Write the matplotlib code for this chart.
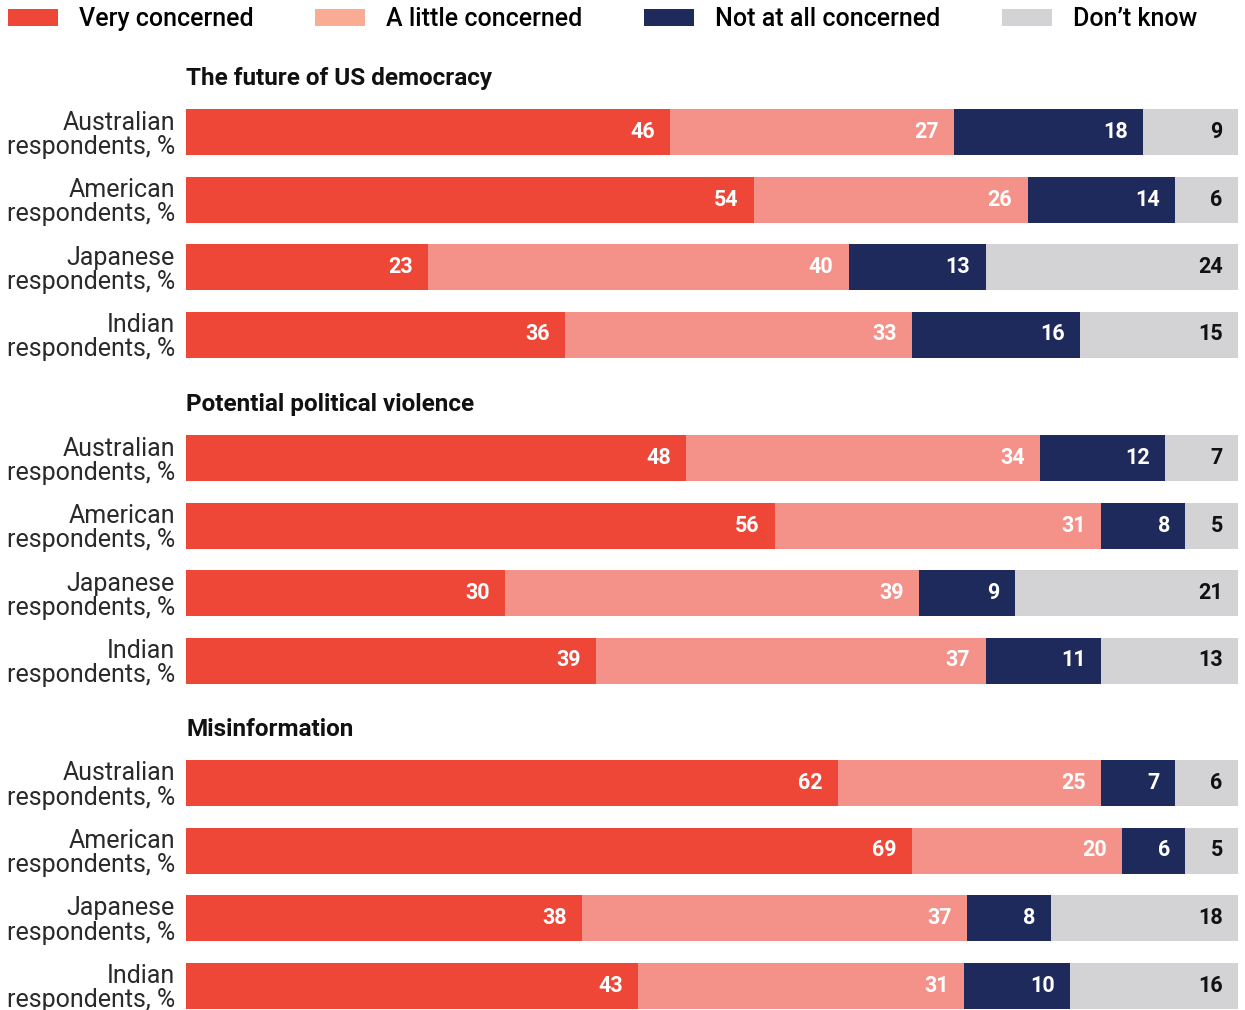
import matplotlib
matplotlib.use("Agg")
from matplotlib import pyplot as plt
from matplotlib.patches import Patch

plt.rcParams['font.family'] = ['Roboto', 'DejaVu Sans']

# data
groups = ['The future of US democracy', 'Potential political violence', 'Misinformation']
rows = ['Australian\nrespondents, %', 'American\nrespondents, %',
        'Japanese\nrespondents, %', 'Indian\nrespondents, %']
series = ['Very concerned', 'A little concerned', 'Not at all concerned', 'Don\u2019t know']

very = [[46, 54, 23, 36], [48, 56, 30, 39], [62, 69, 38, 43]]
little = [[27, 26, 40, 33], [34, 31, 39, 37], [25, 20, 37, 31]]
not_at_all = [[18, 14, 13, 16], [12, 8, 9, 11], [7, 6, 8, 10]]
dont_know = [[9, 6, 24, 15], [7, 5, 21, 13], [6, 5, 18, 16]]

colors = ['#EE4637', '#F4928A', '#1F2A5C', '#D3D3D5']
legend_colors = ['#EE4637', '#F9AB94', '#1F2A5C', '#D3D3D5']
text_colors = ['white', 'white', 'white', '#111111']

W, H = 1245, 1010
fig = plt.figure(figsize=(W / 100, H / 100), dpi=100)

left, right = 186, 1238
tops = [109, 435, 760]  # pixel top of first bar in each group
pitch = 67.5
bar_h = 46

for g, name in enumerate(groups):
    ax_h = 3 * pitch + bar_h
    top = tops[g]
    ax = fig.add_axes([left / W, 1 - (top + ax_h) / H, (right - left) / W, ax_h / H])
    vals = [very[g], little[g], not_at_all[g], dont_know[g]]
    totals = [sum(v[i] for v in vals) for i in range(len(rows))]  # rounded shares may not add to 100
    ypos = list(range(len(rows)))
    start = [0] * len(rows)
    for s in range(len(series)):
        widths = [vals[s][i] * 100 / totals[i] for i in range(len(rows))]
        bars = ax.barh(ypos, widths, left=start, height=bar_h / pitch,
                       color=colors[s], linewidth=0)
        for i, b in enumerate(bars):
            ax.annotate(str(vals[s][i]), (b.get_x() + b.get_width(), b.get_y() + b.get_height() / 2),
                        xytext=(-11, 0), textcoords='offset points', ha='right', va='center',
                        color=text_colors[s], fontsize=15.5, fontweight='bold')
        start = [a + b for a, b in zip(start, widths)]
    ax.set_xlim(0, 100)
    ax.set_ylim(3 + (bar_h / pitch) / 2, -(bar_h / pitch) / 2)
    ax.set_yticks(ypos)
    ax.set_yticklabels(rows, fontsize=18, fontweight='normal', color='#2a2a2a', linespacing=1.02)
    ax.tick_params(axis='y', length=0, pad=8)
    ax.set_xticks([])
    for sp in ax.spines.values():
        sp.set_visible(False)
    ax.text(0, 1 + 30 / ax_h, name, transform=ax.transAxes, ha='left', va='center',
            fontsize=17.5, fontweight='bold', color='#111111')

handles = [Patch(facecolor=c, edgecolor='none') for c in legend_colors]
fig.legend(handles, series, loc='center left', bbox_to_anchor=(3 / W, 1 - 19 / H), ncol=4,
           frameon=False, handlelength=2.0, handleheight=0.65,
           handletextpad=0.85, columnspacing=2.45, borderaxespad=0, borderpad=0.2,
           prop={'size': 18, 'weight': 'medium'})

fig.savefig('out.png', dpi=100)
